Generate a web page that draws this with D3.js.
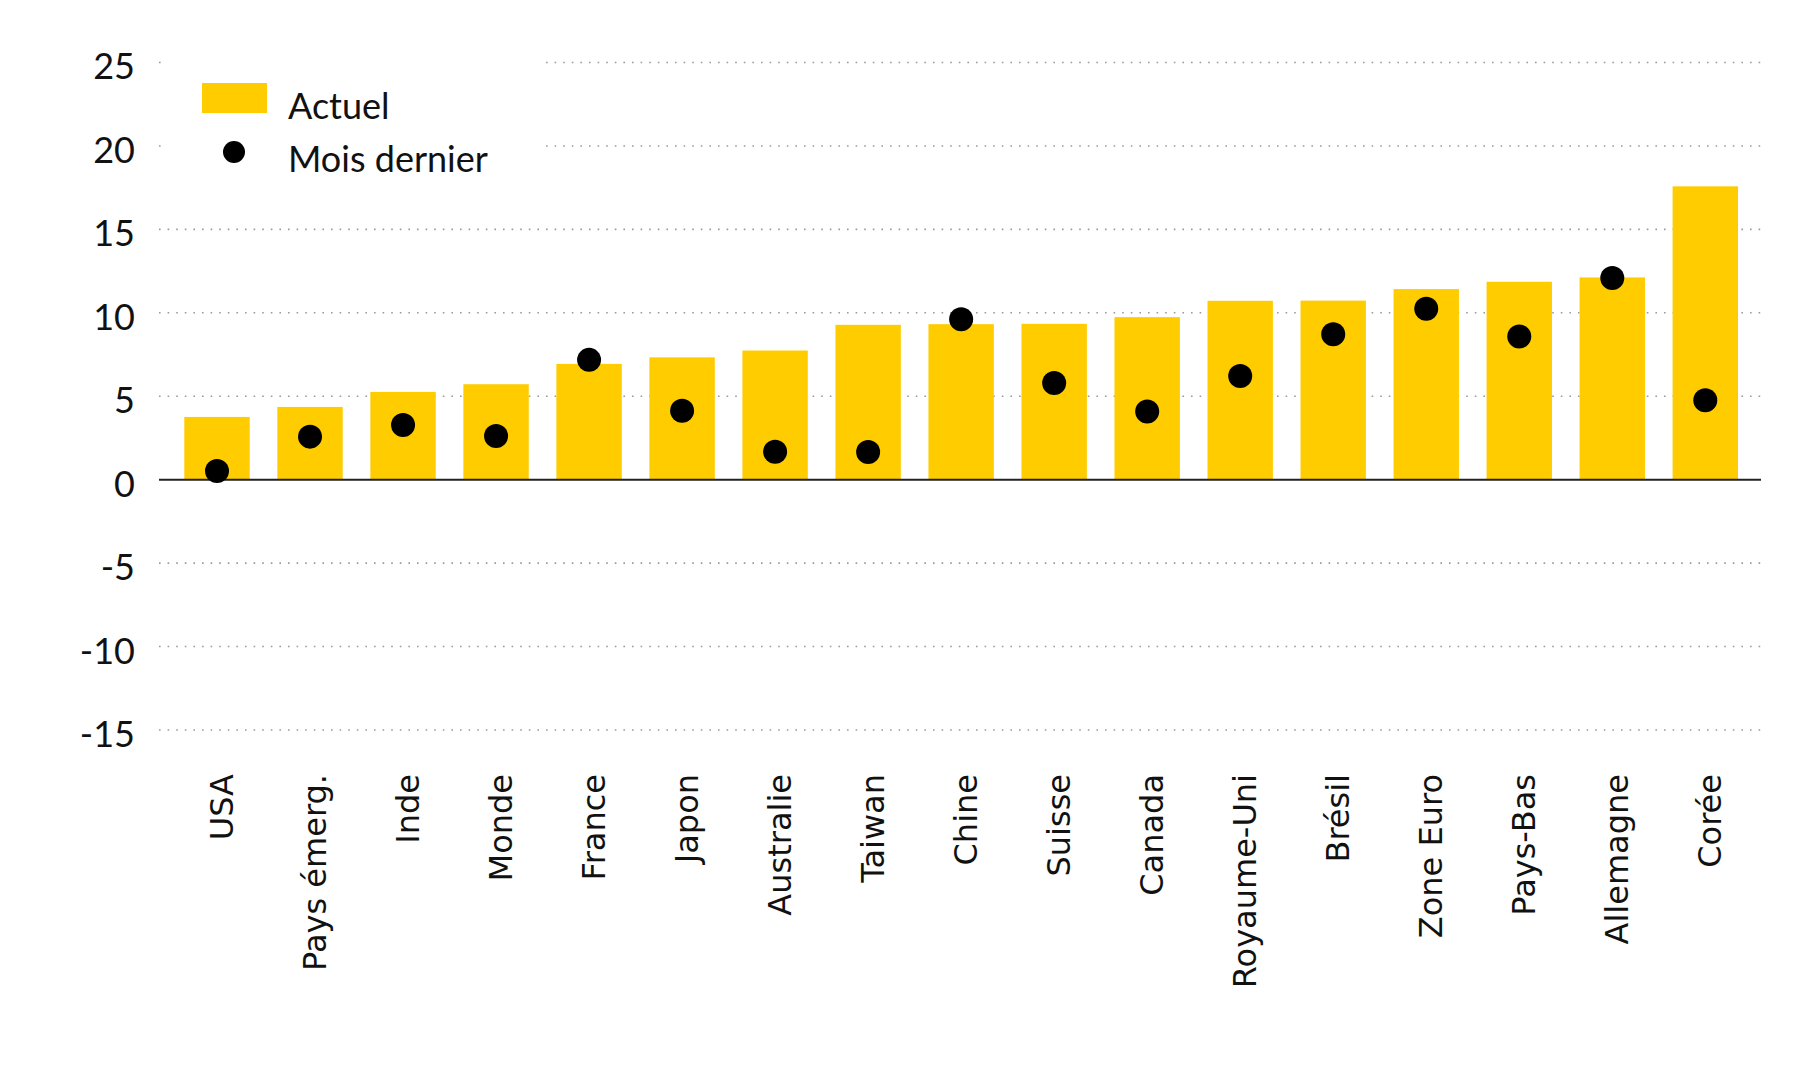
<!DOCTYPE html>
<html><head><meta charset="utf-8">
<script src="https://cdn.jsdelivr.net/npm/d3@7"></script>
<style>html,body{margin:0;padding:0;background:#fff;}</style>
</head><body>
<script>
const categories = ["USA","Pays émerg.","Inde","Monde","France","Japon","Australie","Taiwan","Chine","Suisse","Canada","Royaume-Uni","Brésil","Zone Euro","Pays-Bas","Allemagne","Corée"];
const actuel = [3.76,4.36,5.26,5.72,6.94,7.33,7.74,9.28,9.32,9.34,9.74,10.72,10.73,11.42,11.86,12.12,17.58];
const moisDernier = [0.52,2.58,3.28,2.62,7.18,4.13,1.68,1.66,9.62,5.8,4.08,6.22,8.72,10.24,8.58,12.08,4.76];
const yTicks = [25,20,15,10,5,0,-5,-10,-15];
const legendLabels = ["Actuel","Mois dernier"];

const W = 1800, H = 1080;
const svg = d3.select("body").append("svg").attr("width", W).attr("height", H);

const y = d3.scaleLinear().domain([-15, 25]).range([730, 62.5]);
const x = d3.scaleBand().domain(categories).range([170.5, 1751.8]).paddingInner(0.297).paddingOuter(0.1485);
const gridX0 = 159, gridX1 = 1761;
const font = "Lato, 'Open Sans', sans-serif";
const catFont = "'DejaVu Sans', sans-serif";

// gridlines
svg.append("g").selectAll("line").data(yTicks.filter(d => d !== 0)).join("line")
  .attr("x1", gridX0).attr("x2", gridX1)
  .attr("y1", d => y(d)).attr("y2", d => y(d))
  .attr("stroke", "#9a9a9a").attr("stroke-width", 1.6)
  .attr("stroke-dasharray", "1.6,7");

// legend background covering gridlines
svg.append("rect").attr("x", 163).attr("y", 40).attr("width", 378).attr("height", 150).attr("fill", "#fff");

// y tick labels
svg.append("g").selectAll("text").data(yTicks).join("text")
  .attr("x", 135).attr("y", d => y(d) + 4).attr("dy", "0.36em")
  .attr("text-anchor", "end")
  .attr("font-family", font).attr("font-size", 36).attr("fill", "#111")
  .text(d => d);

// bars
svg.append("g").selectAll("rect").data(categories).join("rect")
  .attr("x", d => x(d)).attr("width", x.bandwidth())
  .attr("y", (d, i) => y(Math.max(0, actuel[i])))
  .attr("height", (d, i) => Math.abs(y(actuel[i]) - y(0)))
  .attr("fill", "#FFCC00");

// zero line
svg.append("line").attr("x1", gridX0).attr("x2", gridX1)
  .attr("y1", y(0)).attr("y2", y(0)).attr("stroke", "#222").attr("stroke-width", 2);

// dots
svg.append("g").selectAll("circle").data(categories).join("circle")
  .attr("cx", d => x(d) + x.bandwidth() / 2)
  .attr("cy", (d, i) => y(moisDernier[i]))
  .attr("r", 12).attr("fill", "#000");

// category labels
svg.append("g").selectAll("text").data(categories).join("text")
  .attr("transform", d => `translate(${x(d) + x.bandwidth() / 2 + 4},774) rotate(-90)`)
  .attr("text-anchor", "end").attr("dy", "0.36em")
  .attr("font-family", catFont).attr("font-size", 32).attr("fill", "#111")
  .text(d => d);

// legend
svg.append("rect").attr("x", 202).attr("y", 83).attr("width", 65).attr("height", 30).attr("fill", "#FFCC00");
svg.append("circle").attr("cx", 234).attr("cy", 152).attr("r", 11).attr("fill", "#000");
svg.append("g").selectAll("text").data(legendLabels).join("text")
  .attr("x", 288).attr("y", (d, i) => i === 0 ? 106 : 159).attr("dy", "0.36em")
  .attr("font-family", font).attr("font-size", 36).attr("fill", "#111")
  .text(d => d);
</script>
</body></html>
